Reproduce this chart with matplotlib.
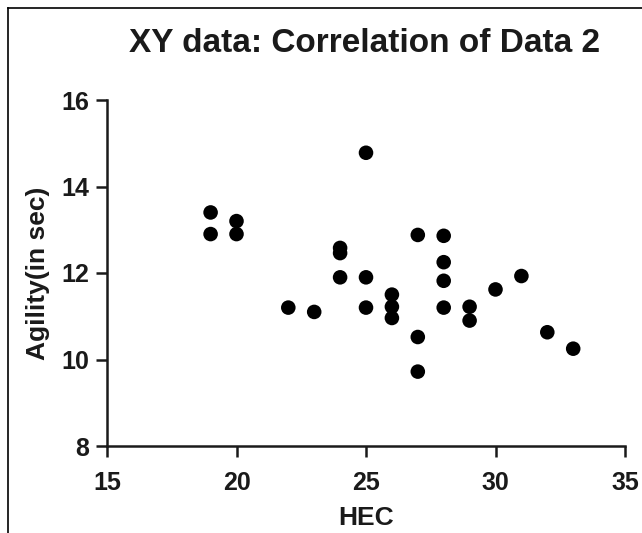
import matplotlib
matplotlib.use("Agg")
import matplotlib.pyplot as plt
from matplotlib.lines import Line2D

plt.rcParams["font.family"] = ["Liberation Sans", "DejaVu Sans"]

# HEC score vs agility time
hec = [19, 19, 20, 20, 22, 23, 24, 24, 24, 25, 25, 25, 26, 26, 26,
       27, 27, 27, 28, 28, 28, 28, 29, 29, 30, 31, 32, 33]
agility = [13.4, 12.9, 13.2, 12.9, 11.2, 11.1, 12.58, 12.46, 11.9, 14.78, 11.9, 11.2, 11.5, 11.22, 10.96,
           12.88, 10.52, 9.72, 12.86, 12.25, 11.82, 11.2, 11.22, 10.9, 11.62, 11.93, 10.63, 10.25]

x_ticks = [15, 20, 25, 30, 35]
y_ticks = [8, 10, 12, 14, 16]

fig = plt.figure(figsize=(6.42, 5.33), dpi=100)
ax = fig.add_axes([107 / 642, 1 - 446 / 533, 518 / 642, 346 / 533])

ax.scatter(hec, agility, s=110, color="black", edgecolors="none", zorder=3, clip_on=False)

ax.set_xlim(15, 35)
ax.set_ylim(8, 16)
ax.set_xticks(x_ticks)
ax.set_yticks(y_ticks)

for side in ["top", "right"]:
    ax.spines[side].set_visible(False)
for side in ["left", "bottom"]:
    ax.spines[side].set_linewidth(1.8)
    ax.spines[side].set_color("#1a1a1a")

ax.tick_params(width=1.8, length=8, labelsize=18, color="#1a1a1a", labelcolor="#1a1a1a")
ax.tick_params(axis="x", pad=10)
ax.tick_params(axis="y", pad=5)
for lbl in ax.get_xticklabels() + ax.get_yticklabels():
    lbl.set_fontweight("bold")

ax.set_xlabel("HEC", fontsize=19, fontweight="bold", labelpad=8, color="#1a1a1a")
ax.set_ylabel("Agility(in sec)", fontsize=19, fontweight="bold", labelpad=8, color="#1a1a1a")
fig.text(365 / 642, 1 - 44 / 533, "XY data: Correlation of Data 2",
         fontsize=24, fontweight="bold", ha="center", va="center", color="#1a1a1a")

# partial frame of the cropped screenshot
fig.add_artist(Line2D([8 / 642, 8 / 642], [0, 1 - 8 / 533], color="black", lw=1.2))
fig.add_artist(Line2D([8 / 642, 1], [1 - 8 / 533, 1 - 8 / 533], color="black", lw=1.2))

fig.savefig("out.png", dpi=100)
